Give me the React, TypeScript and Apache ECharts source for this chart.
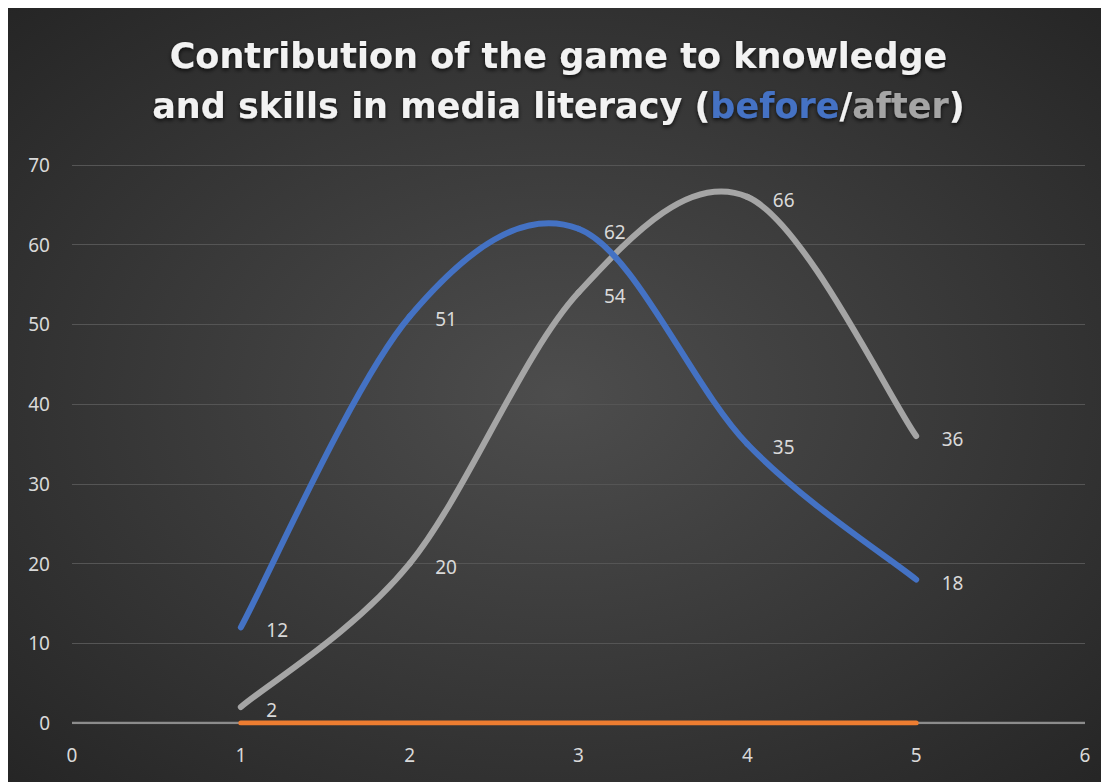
import React, { useEffect, useRef } from "react";
import * as echarts from "echarts";

const xValues = [1, 2, 3, 4, 5];
const beforeValues = [12, 51, 62, 35, 18];
const afterValues = [2, 20, 54, 66, 36];
const baseValues = [0, 0, 0, 0, 0];
const xTicks = [0, 6];
const titleLine1 = "Contribution of the game to knowledge";
const titleLine2 = ["and skills in media literacy (", "before", "/", "after", ")"];

const FONT = "Noto Sans";
const TITLE_FONT = "DejaVu Sans";

function smoothSeries(name: string, vals: number[], color: string, z: number) {
  return {
    name,
    type: "custom",
    data: xValues.map((x, i) => [x, vals[i]]),
    z,
    silent: true,
    clip: false,
    renderItem: (params: any, api: any) => {
      const i = params.dataIndex;
      const n = xValues.length;
      if (i >= n - 1) return { type: "group", children: [] };
      const p = (k: number) => {
        const kk = Math.max(0, Math.min(n - 1, k));
        return api.coord([xValues[kk], vals[kk]]);
      };
      const p0 = p(i - 1), p1 = p(i), p2 = p(i + 1), p3 = p(i + 2);
      return {
        type: "bezierCurve",
        shape: {
          x1: p1[0], y1: p1[1],
          x2: p2[0], y2: p2[1],
          cpx1: p1[0] + (p2[0] - p0[0]) / 6,
          cpy1: p1[1] + (p2[1] - p0[1]) / 6,
          cpx2: p2[0] - (p3[0] - p1[0]) / 6,
          cpy2: p2[1] - (p3[1] - p1[1]) / 6,
        },
        style: { stroke: color, lineWidth: 6, fill: null, lineCap: "round" },
      };
    },
  };
}

function labelSeries(name: string, vals: number[], z: number) {
  return {
    name: name + "-labels",
    type: "line",
    data: xValues.map((x, i) => [x, vals[i]]),
    symbol: "circle",
    symbolSize: 1,
    showSymbol: true,
    itemStyle: { color: "rgba(0,0,0,0)" },
    lineStyle: { opacity: 0 },
    silent: true,
    z,
    label: {
      show: true,
      position: "right",
      distance: 25,
      offset: [0, 3],
      color: "#d9d9d9",
      fontSize: 19,
      fontFamily: FONT,
    },
  };
}

export default function App() {
  const ref = useRef<HTMLDivElement>(null);
  useEffect(() => {
    const chart = echarts.init(ref.current!, null, { renderer: "svg" });
    const richBase = {
      fontSize: 35,
      fontWeight: "bold",
      fontFamily: TITLE_FONT,
      lineHeight: 50,
      textShadowColor: "rgba(0,0,0,0.75)",
      textShadowBlur: 4,
      textShadowOffsetY: 2,
    };
    chart.setOption({
      animation: false,
      backgroundColor: {
        type: "radial",
        x: 0.5,
        y: 0.5,
        r: 0.75,
        colorStops: [
          { offset: 0, color: "#4d4d4d" },
          { offset: 1, color: "#232323" },
        ],
      },
      title: [
        {
          text: "{w|" + titleLine1 + "}",
          left: "center",
          top: 18,
          textStyle: { rich: { w: { ...richBase, color: "#f2f2f2" } } },
        },
        {
          text:
            "{w|" + titleLine2[0] + "}{b|" + titleLine2[1] + "}{w|" + titleLine2[2] +
            "}{g|" + titleLine2[3] + "}{w|" + titleLine2[4] + "}",
          left: "center",
          top: 68,
          textStyle: {
            rich: {
              w: { ...richBase, color: "#f2f2f2" },
              b: { ...richBase, color: "#4472c4" },
              g: { ...richBase, color: "#a5a5a5" },
            },
          },
        },
      ],
      grid: { left: 64, right: 24, top: 157, bottom: 59, containLabel: false },
      xAxis: {
        type: "value",
        min: xTicks[0],
        max: xTicks[1],
        interval: 1,
        axisLine: { show: false },
        axisTick: { show: false },
        splitLine: { show: false },
        axisLabel: { color: "#d9d9d9", fontSize: 19, fontFamily: FONT, margin: 22 },
      },
      yAxis: {
        type: "value",
        min: 0,
        max: 70,
        interval: 10,
        axisLine: { show: false },
        axisTick: { show: false },
        splitLine: { lineStyle: { color: "#555555", width: 1 } },
        axisLabel: { color: "#d9d9d9", fontSize: 19, fontFamily: FONT, margin: 22 },
      },
      series: [
        {
          name: "axis0",
          type: "line",
          data: [[xTicks[0], 0], [xTicks[1], 0]],
          symbol: "none",
          lineStyle: { color: "#8c8c8c", width: 2.5 },
          silent: true,
          z: 1,
        },
        {
          name: "base",
          type: "line",
          data: xValues.map((x, i) => [x, baseValues[i]]),
          symbol: "none",
          lineStyle: { color: "#ed7d31", width: 5, cap: "round" },
          z: 2,
        },
        smoothSeries("after", afterValues, "#a5a5a5", 3),
        smoothSeries("before", beforeValues, "#4472c4", 4),
        labelSeries("after", afterValues, 5),
        labelSeries("before", beforeValues, 6),
      ],
    });
    return () => chart.dispose();
  }, []);
  return <div ref={ref} style={{ width: 1101, height: 774 }} />;
}
